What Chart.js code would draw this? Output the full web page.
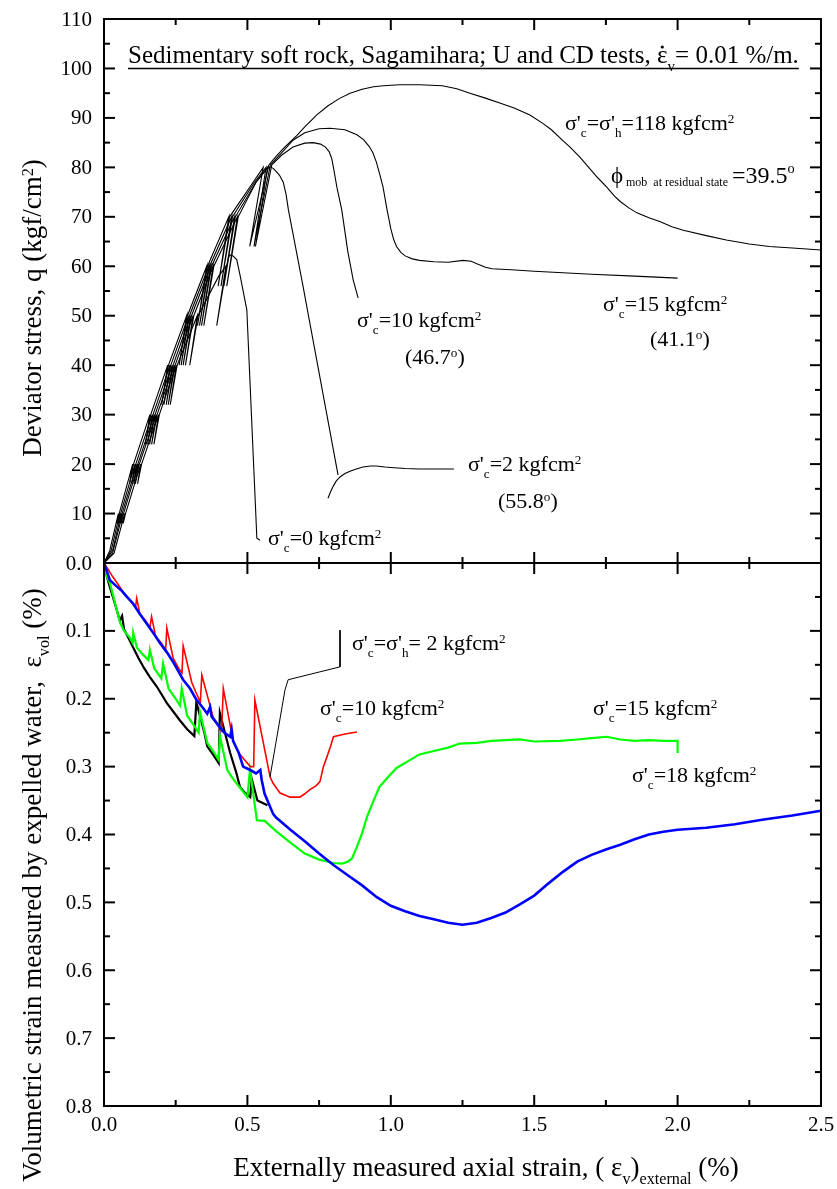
<!DOCTYPE html>
<html>
<head>
<meta charset="utf-8">
<script src="https://cdn.jsdelivr.net/npm/chart.js@4.4.1/dist/chart.umd.min.js"></script>
<style>
  body { margin: 0; background: #fff; }
  canvas { display: block; }
</style>
</head>
<body>
<canvas id="chart" width="837" height="1189"></canvas>
<script>
// -------- DATA -------- //
// ticks
const strainTicks = [0, 0.5, 1.0, 1.5, 2.0, 2.5];
const strainMinor = [0.25, 0.75, 1.25, 1.75, 2.25];
const qTicks = [10, 20, 30, 40, 50, 60, 70, 80, 90, 100, 110];
const qMinor = [5, 15, 25, 35, 45, 55, 65, 75, 85, 95, 105];
const volTicks = [0, 0.1, 0.2, 0.3, 0.4, 0.5, 0.6, 0.7, 0.8];
const volMinor = [0.05, 0.15, 0.25, 0.35, 0.45, 0.55, 0.65, 0.75];

// top panel: deviator stress q (kgf/cm2) vs axial strain (%)
const q0 = [[0,0],[0.035,2],[0.072,10],[0.067,8],[0.075,10],[0.128,20],[0.117,16],[0.131,20],
  [0.19,30],[0.174,24],[0.193,30],[0.252,40],[0.231,32],[0.255,40],[0.325,50],[0.299,40],[0.328,50],
  [0.40,58],[0.425,60],[0.393,48],[0.428,60],[0.434,61.8],[0.439,62.3],[0.45,62.1],[0.463,61.3],
  [0.475,58],[0.498,51.2],[0.533,5],[0.544,4.6]];
const q2 = [[0,0],[0.03,2],[0.065,10],[0.06,8],[0.068,10],[0.12,20],[0.109,16],[0.123,20],
  [0.182,30],[0.166,24],[0.185,30],[0.245,40],[0.224,32],[0.248,40],[0.31,50],[0.284,40],[0.313,50],
  [0.38,60],[0.348,48],[0.383,60],[0.465,70],[0.428,56],[0.468,70],[0.53,77],[0.565,79.5],[0.579,80.1],
  [0.59,79.8],[0.60,79.2],[0.612,78.4],[0.625,77],[0.635,74.5],[0.643,71.4],[0.69,57.2],[0.816,17.8]];
const q2Residual = [[0.781,13.1],[0.79,14.4],[0.80,15.6],[0.81,16.6],[0.823,17.4],[0.84,18.1],
  [0.86,18.6],[0.88,19.0],[0.903,19.4],[0.93,19.6],[0.95,19.6],[0.98,19.4],[1.0,19.3],[1.05,19.1],
  [1.1,19.0],[1.22,19.0]];
const q10 = [[0,0],[0.03,2.5],[0.06,10],[0.055,8],[0.063,10],[0.115,20],[0.104,16],[0.118,20],
  [0.175,30],[0.159,24],[0.178,30],[0.238,40],[0.217,32],[0.241,40],[0.302,50],[0.276,40],[0.305,50],
  [0.372,60],[0.34,48],[0.375,60],[0.455,70],[0.418,56],[0.458,70],[0.53,77],[0.57,80],[0.528,64],
  [0.585,80.5],[0.62,82.5],[0.659,84.1],[0.70,84.9],[0.729,85],[0.755,84.7],[0.772,84.1],[0.785,83.2],
  [0.794,81.8],[0.80,80],[0.806,78],[0.812,76],[0.829,71.4],[0.85,63],[0.869,57.2],[0.886,53.6]];
const q15 = [[0,0],[0.025,2.5],[0.055,10],[0.05,8],[0.058,10],[0.108,20],[0.097,16],[0.111,20],
  [0.168,30],[0.152,24],[0.171,30],[0.23,40],[0.209,32],[0.233,40],[0.295,50],[0.269,40],[0.298,50],
  [0.365,60],[0.333,48],[0.368,60],[0.445,70],[0.408,56],[0.448,70],[0.525,77],[0.565,80],[0.523,64],
  [0.58,80.5],[0.62,83],[0.659,85.5],[0.70,87],[0.75,87.8],[0.788,87.9],[0.84,87.6],[0.882,86.6],
  [0.905,85.6],[0.925,84.2],[0.938,82.9],[0.95,81],[0.962,78.5],[0.973,76],[0.987,71.4],[1.0,67.6],
  [1.01,65.4],[1.02,64],[1.035,62.8],[1.05,62.1],[1.075,61.5],[1.10,61.2],[1.15,60.9],[1.20,60.8],
  [1.252,61.2],[1.28,61],[1.30,60.5],[1.33,59.8],[1.353,59.5],[1.42,59.3],[1.50,59],[1.60,58.7],
  [1.70,58.4],[1.85,58],[2.0,57.6]];
const q118 = [[0,0],[0.02,2.5],[0.05,10],[0.045,8],[0.053,10],[0.10,20],[0.089,16],[0.103,20],
  [0.16,30],[0.144,24],[0.163,30],[0.222,40],[0.201,32],[0.225,40],[0.288,50],[0.262,40],[0.291,50],
  [0.358,60],[0.326,48],[0.361,60],[0.435,70],[0.398,56],[0.438,70],[0.52,77],[0.555,80],[0.508,64],
  [0.575,80.5],[0.60,82.2],[0.625,83.8],[0.65,85.2],[0.672,86.4],[0.70,88.2],[0.742,90.6],[0.78,92.4],
  [0.82,93.9],[0.858,95],[0.9,95.8],[0.94,96.3],[0.973,96.5],[1.03,96.7],[1.1,96.7],[1.18,96.5],
  [1.23,95.9],[1.276,95],[1.33,94],[1.38,93],[1.43,92],[1.485,90.6],[1.53,88.9],[1.56,87.6],
  [1.6,85.4],[1.625,84.1],[1.66,82],[1.69,80],[1.72,78],[1.753,76],[1.78,74.2],[1.80,73.1],
  [1.83,71.8],[1.858,70.8],[1.9,69.8],[1.94,69],[1.98,68],[2.02,67.3],[2.1,66.2],[2.17,65.3],
  [2.25,64.5],[2.32,64],[2.4,63.7],[2.5,63.3]];

// bottom panel: volumetric strain (%) vs axial strain (%)
const vol2 = [[0,0],[0.01,0.02],[0.02,0.035],[0.031,0.05],[0.045,0.07],[0.055,0.085],[0.063,0.078],
  [0.07,0.098],[0.085,0.11],[0.10,0.123],[0.12,0.14],[0.14,0.155],[0.16,0.168],[0.184,0.182],[0.2,0.193],
  [0.22,0.207],[0.24,0.218],[0.265,0.232],[0.29,0.245],[0.315,0.255],[0.322,0.205],[0.35,0.25],
  [0.36,0.27],[0.38,0.282],[0.40,0.295],[0.404,0.221],[0.44,0.28],[0.462,0.31],[0.474,0.33],
  [0.49,0.338],[0.51,0.345],[0.515,0.318],[0.535,0.35],[0.555,0.354],[0.57,0.357]];
const vol10 = [[0,0],[0.015,0.01],[0.03,0.02],[0.05,0.032],[0.07,0.045],[0.09,0.055],[0.11,0.065],
  [0.114,0.052],[0.125,0.075],[0.145,0.085],[0.16,0.095],[0.166,0.079],[0.18,0.108],[0.2,0.118],
  [0.215,0.128],[0.219,0.096],[0.241,0.14],[0.26,0.155],[0.272,0.162],[0.276,0.122],[0.306,0.176],
  [0.32,0.19],[0.336,0.205],[0.341,0.165],[0.381,0.228],[0.40,0.24],[0.41,0.247],[0.416,0.185],
  [0.45,0.262],[0.47,0.28],[0.49,0.29],[0.51,0.3],[0.522,0.3],[0.526,0.202],[0.579,0.315],[0.59,0.325],
  [0.614,0.339],[0.649,0.345],[0.683,0.345],[0.70,0.34],[0.718,0.334],[0.74,0.328],[0.753,0.322],
  [0.765,0.3],[0.777,0.286],[0.79,0.27],[0.80,0.256],[0.84,0.252],[0.882,0.249]];
const vol15 = [[0,0],[0.01,0.02],[0.021,0.03],[0.03,0.045],[0.045,0.07],[0.056,0.088],[0.07,0.1],
  [0.09,0.11],[0.1,0.118],[0.102,0.103],[0.115,0.125],[0.136,0.135],[0.155,0.143],[0.16,0.128],
  [0.175,0.155],[0.2,0.17],[0.206,0.148],[0.225,0.185],[0.25,0.2],[0.265,0.21],[0.271,0.185],
  [0.29,0.225],[0.31,0.237],[0.33,0.25],[0.335,0.22],[0.36,0.265],[0.38,0.277],[0.4,0.29],
  [0.404,0.255],[0.43,0.305],[0.45,0.318],[0.5,0.345],[0.509,0.305],[0.533,0.379],[0.56,0.38],
  [0.6,0.395],[0.65,0.412],[0.7,0.428],[0.75,0.437],[0.8,0.442],[0.83,0.443],[0.85,0.44],[0.865,0.435],
  [0.88,0.42],[0.9,0.398],[0.917,0.374],[0.94,0.35],[0.96,0.33],[0.985,0.318],[1.02,0.302],
  [1.056,0.293],[1.1,0.282],[1.15,0.277],[1.2,0.272],[1.24,0.266],[1.3,0.265],[1.35,0.262],
  [1.45,0.26],[1.5,0.263],[1.59,0.262],[1.65,0.26],[1.7,0.258],[1.753,0.256],[1.8,0.26],[1.85,0.262],
  [1.9,0.261],[1.95,0.262],[2.0,0.262],[2.0,0.28]];
const vol18 = [[0,0],[0.01,0.012],[0.02,0.025],[0.04,0.033],[0.06,0.04],[0.08,0.05],[0.10,0.059],
  [0.125,0.075],[0.15,0.09],[0.175,0.105],[0.195,0.118],[0.22,0.132],[0.24,0.145],[0.26,0.16],
  [0.276,0.172],[0.30,0.185],[0.32,0.2],[0.346,0.214],[0.36,0.222],[0.37,0.212],[0.375,0.226],
  [0.40,0.24],[0.42,0.25],[0.44,0.256],[0.445,0.245],[0.45,0.262],[0.47,0.28],[0.485,0.3],[0.51,0.305],
  [0.53,0.31],[0.545,0.305],[0.55,0.32],[0.56,0.34],[0.575,0.355],[0.59,0.37],[0.6,0.375],[0.65,0.393],
  [0.7,0.41],[0.75,0.428],[0.8,0.445],[0.85,0.46],[0.9,0.475],[0.95,0.492],[1.0,0.505],[1.05,0.513],
  [1.1,0.52],[1.15,0.525],[1.2,0.53],[1.25,0.533],[1.3,0.53],[1.35,0.523],[1.4,0.515],[1.45,0.503],
  [1.5,0.49],[1.55,0.472],[1.6,0.455],[1.65,0.44],[1.7,0.43],[1.75,0.422],[1.8,0.415],[1.85,0.407],
  [1.9,0.4],[1.95,0.396],[2.0,0.393],[2.1,0.39],[2.2,0.385],[2.3,0.378],[2.4,0.372],[2.5,0.365]];
// leader line of the "σ'c=σ'h= 2" label
const leader2 = [[0.823,0.099],[0.823,0.153],[0.642,0.172],[0.631,0.187],[0.579,0.315]];

// -------- LAYOUT -------- //
const TOP_H = 544, BOT_H = 543;   // pixel heights of the two panels
const FONT = '"Liberation Serif", "Times New Roman", serif';

// text with _{sub} and ^{sup}
function richParts(str) {
  const parts = [];
  let mode = 0, buf = '';
  for (let i = 0; i < str.length; i++) {
    const c = str[i];
    if ((c === '_' || c === '^') && str[i + 1] === '{') {
      if (buf) parts.push([buf, 0]);
      buf = '';
      mode = c === '_' ? 1 : 2;
      i++;
    } else if (c === '}' && mode) {
      parts.push([buf, mode]);
      buf = '';
      mode = 0;
    } else buf += c;
  }
  if (buf) parts.push([buf, 0]);
  return parts;
}

function drawRich(ctx, str, x, y, size, o = {}) {
  const parts = richParts(str);
  const small = o.small || size * 0.6;
  const subDy = o.subDy !== undefined ? o.subDy : size * 0.3;
  const supDy = o.supDy !== undefined ? o.supDy : -size * 0.3;
  const fontOf = m => (m ? small : size) + 'px ' + FONT;
  let w = 0;
  parts.forEach(p => { ctx.font = fontOf(p[1]); w += ctx.measureText(p[0]).width; });
  let cx = o.align === 'center' ? x - w / 2 : o.align === 'right' ? x - w : x;
  ctx.textAlign = 'left';
  ctx.textBaseline = 'alphabetic';
  parts.forEach(([t, m]) => {
    ctx.font = fontOf(m);
    ctx.fillText(t, cx, y + (m === 1 ? subDy : m === 2 ? supDy : 0));
    cx += ctx.measureText(t).width;
  });
  return w;
}

// curve labels: text, left x, baseline y (pixels)
const labels = [
  ["σ'_{c}=σ'_{h}=118 kgfcm^{2}", 565, 130],
  ["σ'_{c}=15 kgfcm^{2}", 603, 311],
  ["(41.1^{o})", 650, 346],
  ["σ'_{c}=10 kgfcm^{2}", 357, 327],
  ["(46.7^{o})", 405, 364],
  ["σ'_{c}=2 kgfcm^{2}", 468, 471],
  ["(55.8^{o})", 498, 508],
  ["σ'_{c}=0 kgfcm^{2}", 268, 545],
  ["σ'_{c}=σ'_{h}= 2 kgfcm^{2}", 352, 650],
  ["σ'_{c}=10 kgfcm^{2}", 320, 715],
  ["σ'_{c}=15 kgfcm^{2}", 593, 715],
  ["σ'_{c}=18 kgfcm^{2}", 632, 782]
];

const framePlugin = {
  id: 'frame',
  afterDatasetsDraw(chart) {
    const { ctx, chartArea: a, scales: { x, y, y2 } } = chart;
    const mid = y.getPixelForValue(0);
    ctx.save();
    ctx.strokeStyle = '#000';
    ctx.fillStyle = '#000';
    ctx.lineWidth = 2;
    const seg = (x1, y1, x2, y2_) => { ctx.beginPath(); ctx.moveTo(x1, y1); ctx.lineTo(x2, y2_); ctx.stroke(); };
    ctx.strokeRect(a.left, a.top, a.right - a.left, a.bottom - a.top);
    seg(a.left, mid, a.right, mid);

    // x ticks: top (down), middle (both), bottom (up)
    const xt = (list, len) => list.forEach(v => {
      const px = x.getPixelForValue(v);
      seg(px, a.top, px, a.top + len);
      seg(px, mid - len, px, mid + len);
      seg(px, a.bottom, px, a.bottom - len);
    });
    xt(strainTicks, 11);
    xt(strainMinor, 6);
    // y ticks, inward on both sides
    const yt = (scale, list, len) => list.forEach(v => {
      const py = scale.getPixelForValue(v);
      seg(a.left, py, a.left + len, py);
      seg(a.right, py, a.right - len, py);
    });
    yt(y, qTicks, 11);
    yt(y, qMinor, 6);
    yt(y2, volTicks, 11);
    yt(y2, volMinor, 6);

    // tick labels
    ctx.font = '21px ' + FONT;
    ctx.textAlign = 'right';
    ctx.textBaseline = 'middle';
    qTicks.forEach(v => ctx.fillText(String(v), a.left - 12, y.getPixelForValue(v) + 1));
    volTicks.forEach(v => ctx.fillText(v.toFixed(1), a.left - 12, y2.getPixelForValue(v) + 1));
    ctx.textAlign = 'center';
    ctx.textBaseline = 'alphabetic';
    strainTicks.forEach(v => ctx.fillText(v.toFixed(1), x.getPixelForValue(v), a.bottom + 25));

    // axis titles
    drawRich(ctx, 'Externally measured axial strain, ( ε_{v})_{external} (%)', 486, 1176, 27, { align: 'center' });
    ctx.save();
    ctx.translate(41, 308);
    ctx.rotate(-Math.PI / 2);
    drawRich(ctx, 'Deviator stress, q (kgf/cm^{2})', 0, 0, 27, { align: 'center' });
    ctx.restore();
    ctx.save();
    ctx.translate(41, 885);
    ctx.rotate(-Math.PI / 2);
    drawRich(ctx, 'Volumetric strain measured by expelled water,  ε_{vol} (%)', 0, 0, 27, { align: 'center' });
    ctx.restore();

    // heading, underlined, with the dot of the strain rate
    const head = 'Sedimentary soft rock, Sagamihara; U and CD tests, ';
    ctx.font = '25px ' + FONT;
    const wHead = ctx.measureText(head).width;
    const wEps = ctx.measureText('ε').width;
    const wAll = drawRich(ctx, head + 'ε_{v}= 0.01 %/m.', 128, 63, 25);
    ctx.beginPath();
    ctx.arc(128 + wHead + wEps * 0.5, 47, 1.6, 0, Math.PI * 2);
    ctx.fill();
    ctx.lineWidth = 1.6;
    seg(128, 68.5, 128 + wAll, 68.5);

    // curve labels
    labels.forEach(([t, lx, ly]) => drawRich(ctx, t, lx, ly, 22));
    drawRich(ctx, 'ϕ', 611, 183, 23);
    drawRich(ctx, 'mob  at residual state', 626, 186, 12);
    drawRich(ctx, '=39.5^{o}', 732, 183, 24, { supDy: -10 });
    ctx.restore();
  }
};

const line = (data, color, width, axis) => ({
  data: data, borderColor: color, borderWidth: width, yAxisID: axis,
  pointRadius: 0, tension: 0, fill: false
});

new Chart(document.getElementById('chart'), {
  type: 'line',
  data: {
    datasets: [
      line(leader2, '#000', 1, 'y2'),
      line(vol18, '#0000ff', 2.6, 'y2'),
      line(vol10, '#ff0000', 1.6, 'y2'),
      line(vol15, '#00ff00', 2.2, 'y2'),
      line(vol2, '#000', 2.2, 'y2'),
      line(q0, '#000', 1.1, 'y'),
      line(q2, '#000', 1.1, 'y'),
      line(q2Residual, '#000', 1.1, 'y'),
      line(q10, '#000', 1.1, 'y'),
      line(q15, '#000', 1.1, 'y'),
      line(q118, '#000', 1.1, 'y')
    ]
  },
  options: {
    responsive: false,
    animation: false,
    events: [],
    layout: { padding: { left: 104, right: 16, top: 19, bottom: 83 } },
    scales: {
      x: { type: 'linear', min: 0, max: 2.5, display: false },
      y: { type: 'linear', min: -110 * BOT_H / TOP_H, max: 110, display: false },
      y2: { type: 'linear', min: -0.8 * TOP_H / BOT_H, max: 0.8, reverse: true, display: false }
    },
    plugins: { legend: { display: false }, tooltip: { enabled: false } }
  },
  plugins: [framePlugin]
});
</script>
</body>
</html>
